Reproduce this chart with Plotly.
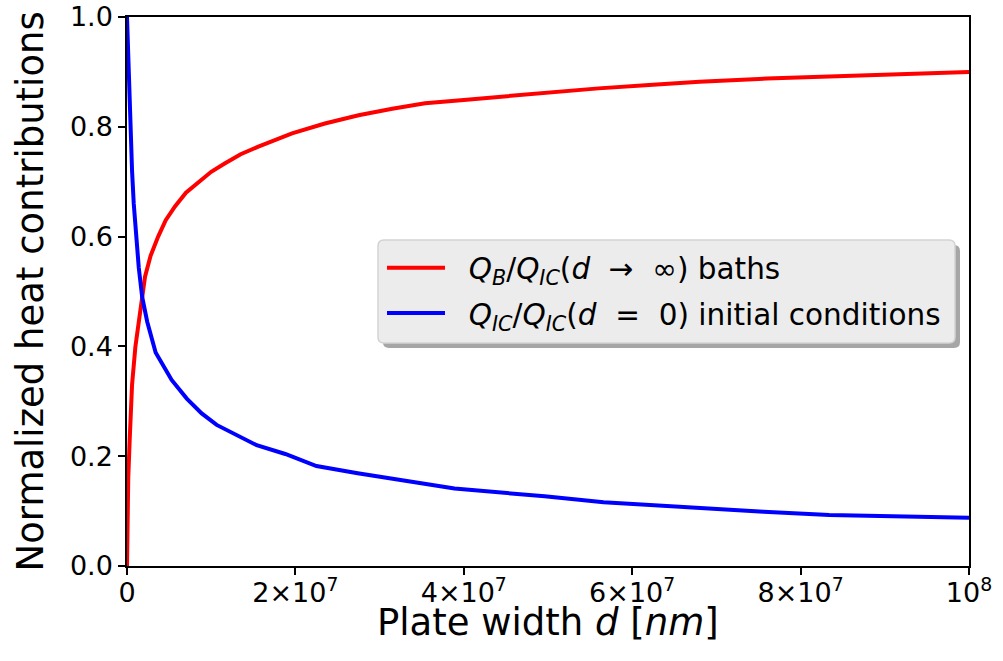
import plotly.graph_objects as go

# ---- data ----
red_x = [0, 0.05e6, 0.15e6, 0.32e6, 0.6e6, 1.0e6, 1.58e6, 2.14e6, 2.8e6, 3.7e6,
         4.6e6, 5.7e6, 7.0e6, 8.5e6, 10.0e6, 11.6e6, 13.5e6, 15.6e6, 19.6e6,
         23.5e6, 27.5e6, 31.5e6, 35.4e6, 40e6, 44.3e6, 49.6e6, 56e6, 62e6,
         68e6, 76e6, 85e6, 92e6, 100e6]
red_y = [0.0, 0.08, 0.16, 0.23, 0.33, 0.40, 0.47, 0.527, 0.565, 0.60,
         0.63, 0.655, 0.68, 0.70, 0.718, 0.733, 0.75, 0.764, 0.788,
         0.806, 0.821, 0.833, 0.843, 0.849, 0.855, 0.862, 0.870, 0.876,
         0.882, 0.888, 0.893, 0.897, 0.900]

blue_x = [0, 0.1e6, 0.25e6, 0.4e6, 0.6e6, 0.8e6, 1.1e6, 1.4e6, 1.8e6, 2.4e6,
          3.4e6, 5.3e6, 7.1e6, 8.87e6, 10.65e6, 15.4e6, 18.8e6, 22.5e6, 27.4e6,
          32.4e6, 38.9e6, 49.6e6, 56.6e6, 75.6e6, 83.4e6, 100e6]
blue_y = [1.0, 0.95, 0.88, 0.80, 0.72, 0.66, 0.59, 0.543, 0.49, 0.445,
          0.389, 0.339, 0.305, 0.278, 0.257, 0.220, 0.204, 0.182, 0.169,
          0.157, 0.141, 0.127, 0.116, 0.099, 0.093, 0.088]

SP = "&nbsp;"
red_name = (SP * 2 + "<i>Q</i><sub><i>B</i></sub>/<i>Q</i><sub><i>IC</i></sub>(<i>d</i>"
            + SP * 2 + "→" + SP * 2 + "∞) baths")
blue_name = (SP * 2 + "<i>Q</i><sub><i>IC</i></sub>/<i>Q</i><sub><i>IC</i></sub>(<i>d</i>"
             + SP * 2 + "=" + SP * 2 + "0) initial conditions")

x_tickvals = [0, 2e7, 4e7, 6e7, 8e7, 1e8]
x_ticktext = ["0", "2×10<sup>7</sup>", "4×10<sup>7</sup>", "6×10<sup>7</sup>",
              "8×10<sup>7</sup>", "10<sup>8</sup>"]
y_tickvals = [0.0, 0.2, 0.4, 0.6, 0.8, 1.0]
y_ticktext = ["0.0", "0.2", "0.4", "0.6", "0.8", "1.0"]

x_title = "Plate width <i>d</i> [<i>nm</i>]"
y_title = "Normalized heat contributions"

FONT = "DejaVu Sans"

fig = go.Figure()
fig.add_trace(go.Scatter(x=red_x, y=red_y, mode="lines", name=red_name,
                         legendgroup="a",
                         line=dict(color="#ff0000", width=4)))
fig.add_trace(go.Scatter(x=blue_x, y=blue_y, mode="lines", name=blue_name,
                         legendgroup="b",
                         line=dict(color="#0000ff", width=4)))

# plot area in page px is 127..969 x 17..566 (body margin removed below)
L, T = 127, 17
W, H = 842.0, 549.0
FIG_W, FIG_H = 1003, 661

def px2paper(px, py):
    return (px - 127) / W, (566 - py) / H

def rounded(x0, y0, x1, y1, r=6):
    def P(px, py):
        a, b = px2paper(px, py)
        return f"{a:.5f},{b:.5f}"
    return (f"M{P(x0 + r, y0)} L{P(x1 - r, y0)} Q{P(x1, y0)} {P(x1, y0 + r)} "
            f"L{P(x1, y1 - r)} Q{P(x1, y1)} {P(x1 - r, y1)} "
            f"L{P(x0 + r, y1)} Q{P(x0, y1)} {P(x0, y1 - r)} "
            f"L{P(x0, y0 + r)} Q{P(x0, y0)} {P(x0 + r, y0)} Z")

shapes = [
    dict(type="path", xref="paper", yref="paper", path=rounded(383, 245, 960, 348),
         fillcolor="#a6a6a6", line=dict(width=0), layer="above"),
    dict(type="path", xref="paper", yref="paper", path=rounded(378, 240, 955, 343),
         fillcolor="#ececec", line=dict(color="#d3d3d3", width=1.5), layer="above"),
]

annotations = [
    dict(text=x_title, xref="paper", yref="paper", x=0.5, y=px2paper(0, 622)[1],
         xanchor="center", yanchor="middle", showarrow=False,
         font=dict(family=FONT, size=37, color="black")),
    dict(text=y_title, xref="paper", yref="paper", x=px2paper(30, 0)[0], y=0.5,
         xanchor="center", yanchor="middle", showarrow=False, textangle=-90,
         font=dict(family=FONT, size=37, color="black")),
]

fig.update_layout(
    width=FIG_W, height=FIG_H,
    margin=dict(l=L, r=FIG_W - L - int(W), t=T, b=FIG_H - T - int(H), autoexpand=False),
    paper_bgcolor="white", plot_bgcolor="white",
    font=dict(family=FONT, color="black", size=27),
    shapes=shapes,
    annotations=annotations,
    showlegend=True,
    legend=dict(x=px2paper(382, 0)[0], y=px2paper(0, 242)[1],
                xanchor="left", yanchor="top",
                bgcolor="rgba(0,0,0,0)", borderwidth=0,
                font=dict(family=FONT, size=29.5, color="black"),
                tracegroupgap=4, itemwidth=58),
    xaxis=dict(range=[0, 1e8], tickvals=x_tickvals, ticktext=x_ticktext,
               showgrid=False, zeroline=False, showline=True, linecolor="black",
               linewidth=1.5, mirror=True, ticks="outside", ticklen=7,
               tickwidth=1.5, tickcolor="black", automargin=False,
               ticklabelstandoff=-5, ticklabeloverflow="allow",
               tickfont=dict(family=FONT, size=27)),
    yaxis=dict(range=[0, 1.0], tickvals=y_tickvals, ticktext=y_ticktext,
               showgrid=False, zeroline=False, showline=True, linecolor="black",
               linewidth=1.5, mirror=True, ticks="outside", ticklen=7,
               tickwidth=1.5, tickcolor="black", automargin=False,
               ticklabeloverflow="allow",
               tickfont=dict(family=FONT, size=27)),
)

fig.write_html("out.html",
               config={"displayModeBar": False},
               post_script="document.body.style.margin='0px';"
                           "document.body.style.overflow='hidden';")
